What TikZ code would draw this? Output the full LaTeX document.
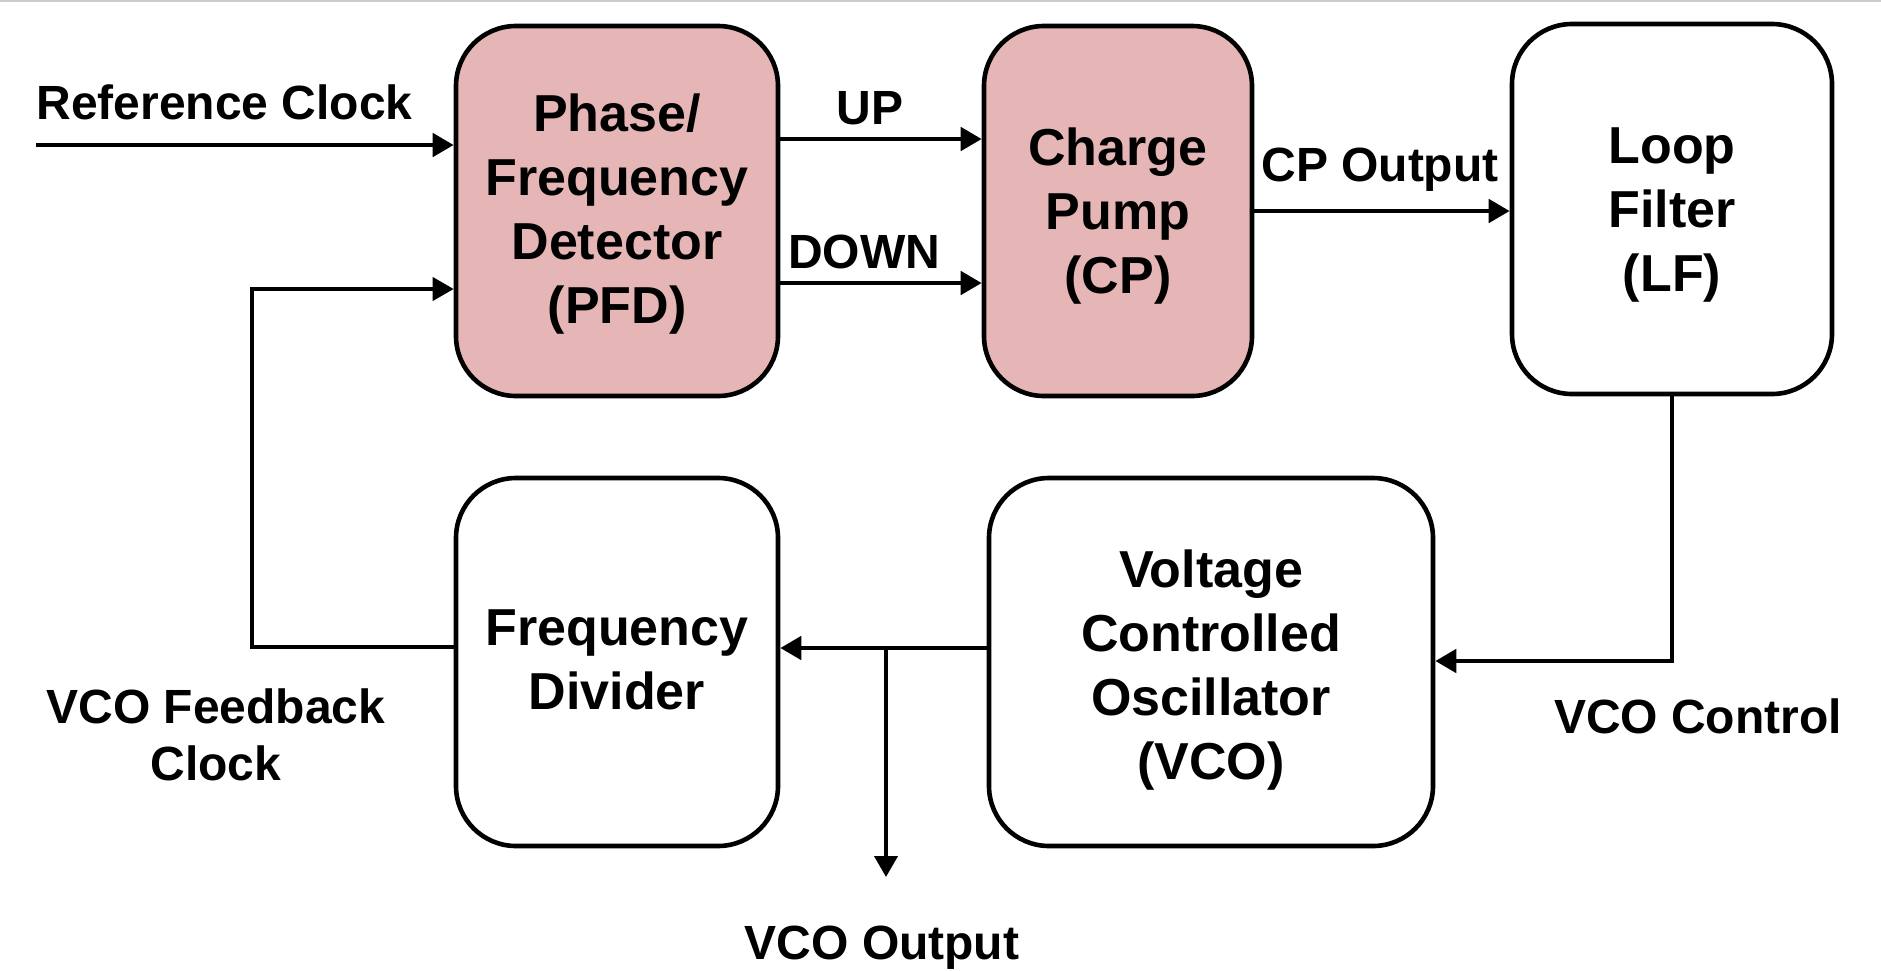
\documentclass[tikz,border=0pt]{standalone}
\usepackage{fontspec}
\setmainfont{Liberation Sans}
\usetikzlibrary{arrows.meta,calc}
\definecolor{boxpink}{RGB}{230,182,182}
\tikzset{
  blk/.style={draw=black, line width=2.3pt, rounded corners=30pt, inner sep=0pt},
  blktext/.style={font=\fontsize{26}{32}\selectfont\bfseries, align=center, inner sep=0pt},
  lbl/.style={font=\fontsize{24}{28.5}\selectfont\bfseries, inner sep=0pt, align=center},
  tip/.style={-{Triangle[length=10.5pt,width=11.5pt]}},
  arr/.style={line width=2.4pt, tip},
  thinarr/.style={line width=2pt, tip},
}
\begin{document}
\begin{tikzpicture}[x=0.5pt,y=-0.5pt]
\useasboundingbox (0,0) rectangle (1881,970);
\draw[black!20, line width=1pt] (0,1) -- (1881,1);

% blocks
\node[blk, fill=boxpink, minimum width=161pt, minimum height=185pt,
  label={[blktext, yshift=-1.5pt]center:Phase/\\Frequency\\Detector\\(PFD)}] (pfd) at (617,211) {};
\node[blk, fill=boxpink, minimum width=134pt, minimum height=185pt,
  label={[blktext, yshift=-2.5pt]center:Charge\\Pump\\(CP)}] (cp) at (1118,211) {};
\node[blk, fill=white, minimum width=160pt, minimum height=185pt,
  label={[blktext, yshift=-3pt]center:Loop\\Filter\\(LF)}] (lf) at (1672,209) {};
\node[blk, fill=white, minimum width=161pt, minimum height=184pt,
  label={[blktext, yshift=1pt]center:Frequency\\Divider}] (fd) at (617,662) {};
\node[blk, fill=white, minimum width=222pt, minimum height=184pt,
  label={[blktext, yshift=-4pt]center:Voltage\\Controlled\\Oscillator\\(VCO)}] (vco) at (1211,662) {};

% coordinates
\coordinate (refin) at (36,145);
\coordinate (tap) at (886,648);
\coordinate (vout) at (886,877);
\coordinate (fbx) at (252,647);
\coordinate (fbtop) at (252,289);
\coordinate (lfcorner) at (1672,661);

% connectors
\draw[arr] (refin) -- (refin -| pfd.west);
\draw[arr] ([yshift=36pt]pfd.east) -- ([yshift=36pt]pfd.east -| cp.west);
\draw[arr] ([yshift=-36pt]pfd.east) -- ([yshift=-36pt]pfd.east -| cp.west);
\draw[arr] (cp.east) -- (cp.east -| lf.west);
\draw[arr] (lf.south) -- (lfcorner) -- (lfcorner -| vco.east);
\draw[arr] (tap -| vco.west) -- (tap -| fd.east);
\draw[thinarr] (tap) -- (vout);
\draw[thinarr] (fbx -| fd.west) -- (fbx) -- (fbtop) -- (fbtop -| pfd.west);

% labels
\node[lbl, anchor=base west] (lref) at (36,119) {Reference Clock};
\node[lbl, anchor=base] (lup) at (870,124) {UP};
\node[lbl, anchor=base] (ldown) at (864,268) {DOWN};
\node[lbl, anchor=base] (lcp) at (1380,181) {CP Output};
\node[lbl, anchor=base] (lfb) at (216,780) {VCO Feedback\\Clock};
\node[lbl, anchor=base] (lctl) at (1698,733) {VCO Control};
\node[lbl, anchor=base] (lout) at (882,959) {VCO Output};
\end{tikzpicture}
\end{document}
